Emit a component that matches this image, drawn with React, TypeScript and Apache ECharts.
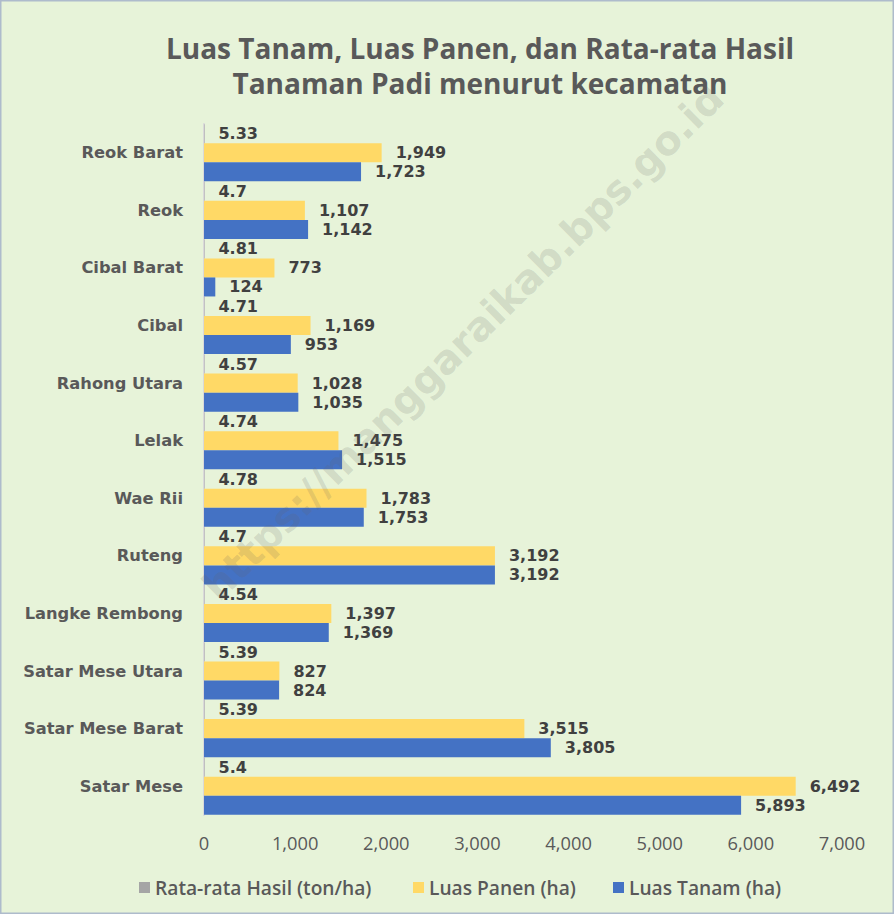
import React, { useEffect, useRef } from "react";
import * as echarts from "echarts";

const categories = [
  "Reok Barat", "Reok", "Cibal Barat", "Cibal", "Rahong Utara", "Lelak",
  "Wae Rii", "Ruteng", "Langke Rembong", "Satar Mese Utara", "Satar Mese Barat", "Satar Mese",
];
const rataRata = [5.33, 4.7, 4.81, 4.71, 4.57, 4.74, 4.78, 4.7, 4.54, 5.39, 5.39, 5.4];
const luasPanen = [1949, 1107, 773, 1169, 1028, 1475, 1783, 3192, 1397, 827, 3515, 6492];
const luasTanam = [1723, 1142, 124, 953, 1035, 1515, 1753, 3192, 1369, 824, 3805, 5893];
const xTicks = { min: 0, max: 7000, interval: 1000 };
const titleLines = ["Luas Tanam, Luas Panen, dan Rata-rata Hasil", "Tanaman Padi menurut kecamatan"];
const seriesNames = ["Rata-rata Hasil (ton/ha)", "Luas Panen (ha)", "Luas Tanam (ha)"];
const watermark = "https://manggaraikab.bps.go.id";

const fmt = (v: number) => v.toLocaleString("en-US");

export default function App() {
  const ref = useRef<HTMLDivElement>(null);
  useEffect(() => {
    document.body.style.margin = "0";
    const chart = echarts.init(ref.current!, null, { renderer: "svg" });
    const labelStyle = {
      show: true,
      position: "right" as const,
      distance: 14,
      fontFamily: "DejaVu Sans",
      fontWeight: "bold" as const,
      fontSize: 16,
      color: "#404040",
    };
    const legendText = { fontFamily: "Open Sans", fontWeight: 600, fontSize: 19.2, color: "#595959" };
    const mkLegend = (name: string, left: number) => ({
      data: [name],
      left,
      top: 873,
      icon: "rect",
      itemWidth: 11,
      itemHeight: 11,
      itemGap: 4,
      textStyle: legendText,
      selectedMode: false,
    });
    const titleStyle = {
      align: "center" as const,
      verticalAlign: "middle" as const,
      fontFamily: "Open Sans",
      fontWeight: 700,
      fontSize: 28,
      fill: "#595959",
    };
    chart.setOption({
      animation: false,
      backgroundColor: "#E7F3D9",
      grid: { left: 204, right: 52, top: 124, bottom: 99, containLabel: false },
      legend: [
        mkLegend(seriesNames[0], 134),
        mkLegend(seriesNames[1], 408),
        mkLegend(seriesNames[2], 608),
      ],
      xAxis: {
        type: "value",
        min: xTicks.min,
        max: xTicks.max,
        interval: xTicks.interval,
        splitLine: { show: false },
        axisLine: { show: false },
        axisTick: { show: false },
        axisLabel: {
          formatter: (v: number) => fmt(v),
          fontFamily: "Open Sans",
          fontSize: 18.3,
          color: "#595959",
          margin: 18,
        },
      },
      yAxis: {
        type: "category",
        data: categories,
        inverse: true,
        axisLine: { show: true, lineStyle: { color: "#D9D9D9", width: 2 } },
        axisTick: { show: false },
        axisLabel: {
          fontFamily: "DejaVu Sans",
          fontWeight: "bold",
          fontSize: 16.3,
          color: "#595959",
          margin: 21,
        },
      },
      series: [
        {
          name: seriesNames[0],
          type: "bar",
          data: rataRata,
          itemStyle: { color: "#A5A5A5" },
          barGap: "0%",
          barCategoryGap: "1%",
          label: { ...labelStyle, formatter: (p: any) => String(p.value) },
        },
        {
          name: seriesNames[1],
          type: "bar",
          data: luasPanen,
          itemStyle: { color: "#FFD966" },
          barGap: "0%",
          barCategoryGap: "1%",
          label: { ...labelStyle, formatter: (p: any) => fmt(p.value) },
        },
        {
          name: seriesNames[2],
          type: "bar",
          data: luasTanam,
          itemStyle: { color: "#4472C4" },
          barGap: "0%",
          barCategoryGap: "1%",
          label: { ...labelStyle, formatter: (p: any) => fmt(p.value) },
        },
      ],
      graphic: [
        {
          type: "rect",
          shape: { x: 0.75, y: 0.75, width: 892.5, height: 912.5 },
          style: { fill: "none", stroke: "#AEBBCC", lineWidth: 1.5 },
          z: 100,
        },
        { type: "text", x: 480, y: 48, style: { ...titleStyle, text: titleLines[0] } },
        { type: "text", x: 480, y: 83, style: { ...titleStyle, text: titleLines[1] } },
        {
          type: "text",
          x: 463,
          y: 342,
          rotation: 0.78,
          z: 50,
          style: {
            text: watermark,
            align: "center",
            verticalAlign: "middle",
            fontFamily: "DejaVu Sans",
            fontWeight: "bold",
            fontSize: 40,
            fill: "rgba(100,100,100,0.18)",
          },
        },
      ],
    });
    return () => chart.dispose();
  }, []);
  return <div ref={ref} style={{ position: "fixed", left: 0, top: 0, width: 894, height: 914 }} />;
}
